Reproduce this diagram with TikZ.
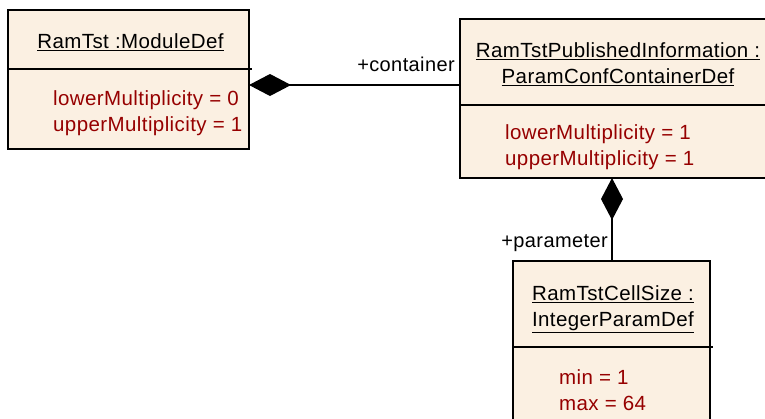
\documentclass[tikz,border=0pt]{standalone}
\usepackage{fontspec}
\setmainfont[LetterSpace=2]{Liberation Sans}
\usetikzlibrary{arrows.meta}
\definecolor{boxfill}{HTML}{FBF0E2}
\definecolor{attrred}{HTML}{960000}
\tikzset{
  umlbox/.style={draw=black, fill=boxfill, line width=1.4pt},
  sepline/.style={line width=1.4pt},
  titletext/.style={font=\fontsize{20.5}{26}\selectfont, align=center, inner sep=0pt},
  attrtext/.style={font=\fontsize{20.5}{26}\selectfont, text=attrred, align=left, anchor=north west, inner sep=0pt},
  roletext/.style={font=\fontsize{20}{22}\selectfont, inner sep=0pt},
  comp/.style={line width=1.4pt, {Diamond[length=42pt,width=22pt,fill=black]}-},
}
\newcommand{\ul}[1]{\underline{#1}}
\begin{document}
\begin{tikzpicture}[x=1pt,y=-1pt]
\clip (0,0) rectangle (765,418);
\fill[white] (0,0) rectangle (765,418);

% RamTst :ModuleDef
\draw[umlbox] (8,10) rectangle (249,149);
\coordinate (m-e) at (249,85);
\draw[sepline] (8,69) -- (252,69);
\node[titletext] (m-title) at (130.5,42) {\ul{RamTst :ModuleDef}};
\node[attrtext] (m-attr) at (53,90) {lowerMultiplicity = 0\\upperMultiplicity = 1};

% RamTstPublishedInformation :ParamConfContainerDef
\draw[umlbox] (460,19) rectangle (780,178);
\coordinate (c-w) at (460,85);
\coordinate (c-s) at (612,178);
\draw[sepline] (460,105) -- (780,105);
\node[titletext] (c-title) at (618,64) {\ul{RamTstPublishedInformation :}\\\ul{ParamConfContainerDef}};
\node[attrtext] (c-attr) at (505,124) {lowerMultiplicity = 1\\upperMultiplicity = 1};

% RamTstCellSize :IntegerParamDef
\draw[umlbox] (513,261) rectangle (710,440);
\coordinate (p-n) at (612,261);
\draw[sepline] (513,347) -- (713,347);
\node[titletext] (p-title) at (613,309) {\ul{RamTstCellSize :}\\\ul{IntegerParamDef}};
\node[attrtext] (p-attr) at (559,369) {min = 1\\max = 64};

% compositions
\draw[comp] (m-e) -- (c-w);
\draw[comp] (c-s) -- (p-n);
\node[roletext, anchor=south east] (r-cont) at (455,72) {+container};
\node[roletext, anchor=south east] (r-par) at (608,252) {+parameter};
\end{tikzpicture}
\end{document}
